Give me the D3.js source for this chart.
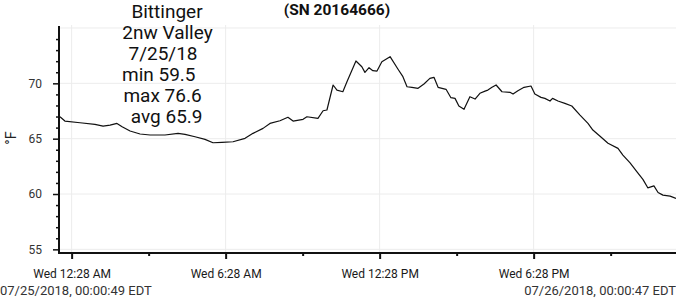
<!DOCTYPE html>
<html>
<head>
<meta charset="utf-8">
<script src="https://cdn.jsdelivr.net/npm/d3@7"></script>
<style>
  body { margin: 0; background: #fff; }
  svg { display: block; font-family: Roboto, sans-serif; }
  .grid line { stroke: #ececec; stroke-width: 1; }
</style>
</head>
<body>
<div id="vis"></div>
<script>
// Data
const startTime = new Date(2018, 6, 25, 0, 0, 49);
const endTime = new Date(2018, 6, 26, 0, 0, 47);
const hoursFromStart = [0, 0.19, 0.78, 1.36, 1.68, 1.95, 2.22, 2.42, 2.73, 3.12, 3.51, 4.09, 4.60, 4.87, 5.26,
  5.65, 5.96, 6.31, 6.74, 7.21, 7.52, 7.91, 8.18, 8.57, 8.88, 9.08, 9.47, 9.62, 10.05, 10.25, 10.40,
  10.64, 10.79, 11.02, 11.18, 11.53, 11.76, 11.88, 12.04, 12.19, 12.35, 12.54, 12.86, 13.17, 13.36,
  13.52, 13.71, 13.95, 14.18, 14.41, 14.57, 14.73, 15.04, 15.23, 15.39, 15.54, 15.74, 15.97, 16.17,
  16.36, 16.56, 16.67, 16.83, 16.99, 17.22, 17.53, 17.65, 17.84, 18.08, 18.35, 18.50, 18.74, 18.89,
  19.09, 19.19, 19.40, 19.67, 19.94, 20.26, 20.57, 20.76, 21.03, 21.35, 21.74, 21.93, 22.21, 22.48,
  22.71, 22.90, 23.14, 23.30, 23.49, 23.77, 24.0];
const temps = [66.98, 66.59, 66.44, 66.29, 66.14, 66.23, 66.38, 66.08, 65.69, 65.42, 65.33, 65.33, 65.48, 65.39, 65.17,
  64.94, 64.63, 64.67, 64.72, 65.03, 65.48, 65.93, 66.38, 66.62, 66.93, 66.59, 66.75, 66.98, 66.84, 67.52, 67.59,
  69.85, 69.39, 69.24, 70.14, 72.02, 71.50, 70.99, 71.41, 71.14, 71.11, 71.95, 72.41, 71.27, 70.60,
  69.69, 69.64, 69.55, 69.94, 70.45, 70.54, 69.64, 69.46, 68.70, 68.64, 67.95, 67.65, 68.79, 68.58,
  69.10, 69.30, 69.39, 69.64, 69.85, 69.24, 69.19, 69.03, 69.33, 69.64, 69.76, 69.03, 68.73, 68.64,
  68.40, 68.64, 68.40, 68.19, 67.95, 67.13, 66.38, 65.78, 65.24, 64.58, 64.12, 63.52, 62.82, 62.01,
  61.32, 60.56, 60.74, 60.14, 59.90, 59.81, 59.60];
const yTicks = [55, 60, 65, 70];
const yGrid = [55, 60, 65, 70, 75];
const infoLines = ["Bittinger", "2nw Valley", "7/25/18", "min 59.5", "max 76.6", "avg 65.9"];
const title = "(SN 20164666)";
const unitLabel = "°F";
const startLabel = "07/25/2018, 00:00:49 EDT";
const endLabel = "07/26/2018, 00:00:47 EDT";

const width = 676, height = 303;
const plotLeft = 59, plotRight = 676, plotTop = 25, plotBottom = 253;

const data = hoursFromStart.map((h, i) => ({
  t: new Date(startTime.getTime() + h * 3600 * 1000),
  v: temps[i]
}));

const svg = d3.select("#vis").append("svg")
  .attr("width", width)
  .attr("height", height);

const x = d3.scaleTime()
  .domain([startTime, endTime])
  .range([plotLeft + 1, plotRight]);

const y = d3.scaleLinear()
  .domain([54.67, 75.27])
  .range([plotBottom, plotTop]);

// ticks every 3 hours from 00:28, labels every 6 hours
const firstTick = new Date(2018, 6, 25, 0, 28, 0);
const allTicks = d3.range(0, 8).map(i => d3.timeHour.offset(firstTick, i * 3)).filter(d => d < endTime);
const majorTicks = allTicks.filter((d, i) => i % 2 === 0);
const minorTicks = allTicks.filter((d, i) => i % 2 === 1);

// grid
const grid = svg.append("g").attr("class", "grid");
grid.selectAll(".h").data(yGrid).enter().append("line")
  .attr("x1", plotLeft).attr("x2", plotRight)
  .attr("y1", d => y(d)).attr("y2", d => y(d));
grid.selectAll(".v").data(majorTicks).enter().append("line")
  .attr("x1", d => x(d)).attr("x2", d => x(d))
  .attr("y1", plotTop).attr("y2", plotBottom);

// line
const line = d3.line()
  .x(d => x(d.t))
  .y(d => y(d.v));

svg.append("path")
  .datum(data)
  .attr("fill", "none")
  .attr("stroke", "#111")
  .attr("stroke-width", 1.2)
  .attr("stroke-linejoin", "round")
  .attr("d", line);

// x axis
const xAxisG = svg.append("g").attr("transform", "translate(0," + plotBottom + ")");
xAxisG.call(d3.axisBottom(x).tickValues(majorTicks).tickSize(6).tickFormat(d3.timeFormat("%a %-I:%M %p")))
  .call(g => g.select(".domain").remove());
xAxisG.selectAll(".tick line").attr("stroke", "#111").attr("stroke-width", 2);
xAxisG.selectAll(".tick text").attr("font-family", "Roboto").attr("font-size", 12).attr("fill", "#1a1a1a").attr("dy", "1.3em");
xAxisG.append("g").call(d3.axisBottom(x).tickValues(minorTicks).tickSize(3).tickFormat(""))
  .call(g => g.select(".domain").remove())
  .selectAll(".tick line").attr("stroke", "#111").attr("stroke-width", 2);
svg.append("line")
  .attr("x1", plotLeft - 1).attr("x2", plotRight)
  .attr("y1", plotBottom).attr("y2", plotBottom)
  .attr("stroke", "#111").attr("stroke-width", 2);

// y axis
const yAxisG = svg.append("g").attr("transform", "translate(" + plotLeft + ",0)");
yAxisG.call(d3.axisLeft(y).tickValues(yTicks).tickSize(6).tickPadding(11))
  .call(g => g.select(".domain").remove());
yAxisG.selectAll(".tick line").attr("stroke", "#111").attr("stroke-width", 1.5);
yAxisG.selectAll(".tick text").attr("font-family", "Roboto").attr("font-size", 12).attr("fill", "#333");
yAxisG.append("g").call(d3.axisLeft(y).tickValues(d3.range(55, 76, 1).filter(v => v % 5 !== 0)).tickSize(3).tickFormat(""))
  .call(g => g.select(".domain").remove())
  .selectAll(".tick line").attr("stroke", "#111").attr("stroke-width", 1.5);
svg.append("line")
  .attr("x1", plotLeft).attr("x2", plotLeft)
  .attr("y1", plotTop + 1).attr("y2", plotBottom)
  .attr("stroke", "#111").attr("stroke-width", 2);

// unit label
svg.append("text")
  .attr("transform", "translate(16,138) rotate(-90)")
  .attr("text-anchor", "middle")
  .attr("font-size", 14.5)
  .attr("fill", "#222")
  .text(unitLabel);

// title
svg.append("text")
  .attr("x", 337).attr("y", 15)
  .attr("text-anchor", "middle")
  .attr("font-size", 15.5)
  .attr("font-weight", "bold")
  .attr("fill", "#111")
  .text(title);

// info block
const lineCenters = [167, 167.5, 163, 158.8, 162.5, 166.7];
svg.append("g").selectAll("text").data(infoLines).enter().append("text")
  .attr("x", (d, i) => lineCenters[i])
  .attr("y", (d, i) => 18 + i * 21)
  .attr("text-anchor", "middle")
  .attr("font-size", 19)
  .attr("fill", "#111")
  .text(d => d);

// range labels
svg.append("text")
  .attr("x", 0).attr("y", 295)
  .attr("font-size", 13)
  .attr("fill", "#333")
  .text(startLabel);
svg.append("text")
  .attr("x", width).attr("y", 295)
  .attr("text-anchor", "end")
  .attr("font-size", 13)
  .attr("fill", "#333")
  .text(endLabel);
</script>
</body>
</html>
